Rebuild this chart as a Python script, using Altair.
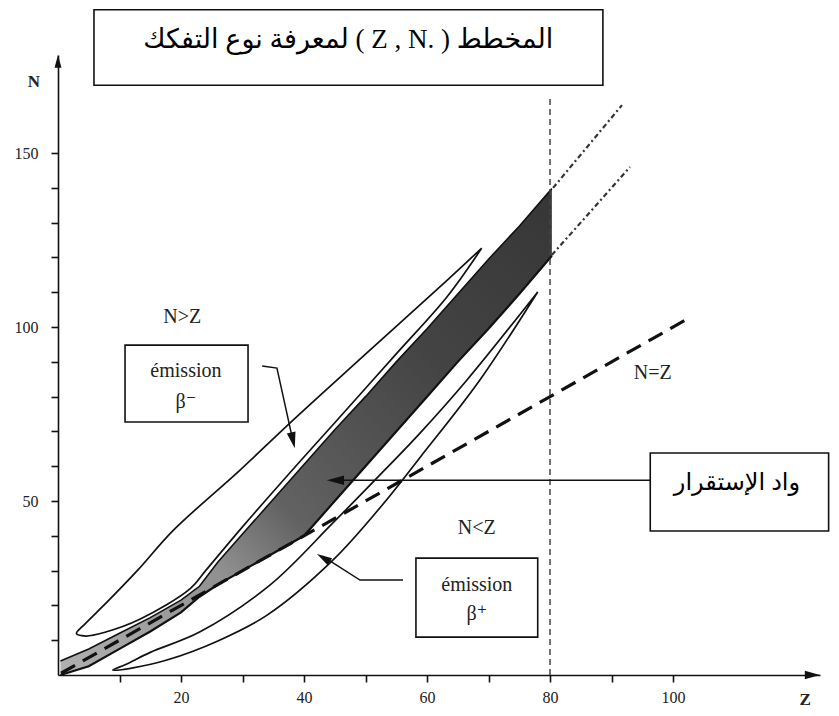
import altair as alt
import pandas as pd

# ---------------- axes ----------------
Z_MAX = 123.9
N_MAX = 178.2
z_ticks = [10, 20, 30, 40, 50, 60, 70, 80, 90, 100]
n_ticks = [10, 20, 30, 40, 50, 60, 70, 80, 90, 100, 110, 120, 130, 140, 150]

# ---------------- valley of stability (band) ----------------
band_z = [0.4, 5, 10, 15, 20, 23, 26, 30, 35, 40, 45, 50, 55, 60, 65, 70, 75, 80.3]
band_lo = [0, 2.5, 7.5, 12.5, 18, 22.5, 26, 30, 35, 40, 50, 60, 70, 80, 90, 99.5, 109.5, 120.5]
band_hi = [4.0, 7.5, 12, 16.5, 21.5, 25.5, 32.5, 40.5, 50.5, 60.5, 70.5, 80, 90, 99.5, 109.5, 119.5, 129, 139.8]

# ---------------- beta- loop (closed, ordered) ----------------
bm_z = [68.9, 63.3, 55, 45, 39.3, 30.1, 24, 21.5, 13.3, 7.5, 4.5, 3.0, 4.4, 8, 13, 18.7, 29.6, 37.7, 50, 63.3, 68.9]
bm_n = [122.7, 108.8, 92.3, 72.5, 61.3, 42.8, 30.0, 24.8, 16.0, 12.2, 11.2, 11.9, 14.7, 21.0, 30.2, 41.5, 58.9, 72.4, 92.2, 113.5, 122.7]

# ---------------- beta+ loop (closed, ordered) ----------------
bp_z = [78, 68.6, 58.9, 52.8, 44.7, 34, 26, 17.7, 12, 8.9, 11, 15, 23.1, 34.5, 44.7, 51.8, 58.9, 66.5, 78]
bp_n = [110.1, 84.8, 62.6, 49.0, 33.0, 17.2, 9.8, 4.3, 2.0, 1.4, 3.0, 6.5, 12.4, 25.9, 43.7, 56.5, 69.6, 84.8, 110.1]

# ---------------- reference lines ----------------
nz_z = [0.5, 102.3]          # N = Z
nz_n = [0.5, 102.3]
vline_z = 80
vline_n = [0, 166.7]
ext_z = [[80.5, 91.7], [80.3, 93.0]]
ext_n = [[140.0, 163.8], [120.7, 146.0]]

# ---------------- arrows ----------------
arrow_paths = {
    "main": ([96.3, 44.5], [56.0, 56.0]),
    "bm": ([33.2, 35.6, 38.3], [88.8, 88.2, 66.5]),
    "bp": ([56.1, 49.1, 43.0], [27.3, 27.3, 34.2]),
}
head_z = [43.7, 38.5, 42.1, Z_MAX, 0]
head_n = [56.0, 65.2, 34.8, 0, N_MAX]
head_angle = [270, 167, 301, 90, 0]
head_size = [300, 260, 230, 230, 160]

# ---------------- boxes ----------------
box_z = [5.85, 10.9, 58.2, 96.3]
box_z2 = [88.6, 30.9, 78.0, 125.3]
box_n = [191.2, 94.8, 33.6, 63.8]
box_n2 = [169.5, 72.7, 10.9, 41.4]

# ---------------- texts ----------------
title_text = "لمعرفة نوع التفكك ( Z , N. ) المخطط"
stab_text = "واد الإستقرار"
label_text = ["N>Z", "N<Z", "N=Z", "émission", "β⁻", "émission", "β⁺"]
label_z = [20.2, 68.1, 96.7, 20.8, 20.8, 68.1, 68.1]
label_n = [102.9, 42.2, 86.8, 87.4, 78.6, 25.9, 17.6]

# ================= build =================
xs = alt.Scale(domain=[0, Z_MAX], nice=False, zero=False)
ys = alt.Scale(domain=[0, N_MAX], nice=False, zero=False)
serif = "Liberation Serif, Times New Roman, DejaVu Serif, serif"
arabic = "Liberation Serif, Times New Roman, DejaVu Sans, serif"

x_axis = alt.Axis(values=z_ticks, labelExpr="datum.value % 20 == 0 ? datum.label : ''",
                  grid=False, tickSize=7, labelPadding=7, labelFont=serif, labelFontSize=16,
                  labelColor="#222", domainColor="#111", tickColor="#111", domainWidth=1.6,
                  tickWidth=1.6, labelFlush=False)
y_axis = alt.Axis(values=n_ticks, labelExpr="datum.value % 50 == 0 ? datum.label : ''",
                  grid=False, tickSize=7, labelPadding=13, labelFont=serif, labelFontSize=16,
                  labelColor="#222", domainColor="#111", tickColor="#111", domainWidth=1.6,
                  tickWidth=1.6, labelFlush=False)


def X(f):
    return alt.X(f, type="quantitative", scale=xs, axis=x_axis, title=None)


def Y(f):
    return alt.Y(f, type="quantitative", scale=ys, axis=y_axis, title=None)


band_df = pd.DataFrame({"z": band_z, "lo": band_lo, "hi": band_hi})
grad = alt.Gradient(gradient="linear",
                    stops=[alt.GradientStop(color="#b0b0b0", offset=0),
                           alt.GradientStop(color="#909090", offset=0.27),
                           alt.GradientStop(color="#626262", offset=0.4),
                           alt.GradientStop(color="#444444", offset=0.7),
                           alt.GradientStop(color="#363636", offset=1)],
                    x1=0, x2=1, y1=1, y2=0)
band = alt.Chart(band_df).mark_area(color=grad).encode(x=X("z"), y=Y("lo"), y2="hi")
band_up = alt.Chart(band_df).mark_line(color="#111", strokeWidth=1.6).encode(x=X("z"), y=Y("hi"))
band_low = alt.Chart(band_df).mark_line(color="#111", strokeWidth=2.2).encode(x=X("z"), y=Y("lo"))

loops = pd.concat([
    pd.DataFrame({"z": bm_z, "n": bm_n, "o": range(len(bm_z)), "g": "bm"}),
    pd.DataFrame({"z": bp_z, "n": bp_n, "o": range(len(bp_z)), "g": "bp"}),
])
loop_layer = alt.Chart(loops).mark_line(color="#111", strokeWidth=1.7, interpolate="catmull-rom").encode(
    x=X("z"), y=Y("n"), order="o:Q", detail="g:N")

nz_df = pd.DataFrame({"z": nz_z, "n": nz_n})
nz_layer = alt.Chart(nz_df).mark_line(color="#111", strokeWidth=3.2, strokeDash=[16, 9]).encode(
    x=X("z"), y=Y("n"))

vl_df = pd.DataFrame({"z": [vline_z], "n": [vline_n[0]], "n2": [vline_n[1]]})
vl_layer = alt.Chart(vl_df).mark_rule(color="#444", strokeWidth=1.5, strokeDash=[6, 4]).encode(
    x=X("z"), y=Y("n"), y2="n2")

ext_rows = []
for i, (zz, nn) in enumerate(zip(ext_z, ext_n)):
    for j in range(2):
        ext_rows.append({"z": zz[j], "n": nn[j], "g": i, "o": j})
ext_layer = alt.Chart(pd.DataFrame(ext_rows)).mark_line(color="#333", strokeWidth=2.2,
                                                         strokeDash=[5, 3, 2, 3]).encode(
    x=X("z"), y=Y("n"), detail="g:N", order="o:Q")

arr_rows = []
for k, (zz, nn) in arrow_paths.items():
    for j in range(len(zz)):
        arr_rows.append({"z": zz[j], "n": nn[j], "g": k, "o": j})
arr_layer = alt.Chart(pd.DataFrame(arr_rows)).mark_line(color="#111", strokeWidth=1.5).encode(
    x=X("z"), y=Y("n"), detail="g:N", order="o:Q")

head_df = pd.DataFrame({"z": head_z, "n": head_n, "a": head_angle, "s": head_size})
head_layer = alt.Chart(head_df).mark_point(shape="M0,0L-0.55,2L0.55,2Z", filled=True, color="#111",
                                           opacity=1).encode(
    x=X("z"), y=Y("n"), angle=alt.Angle("a:Q", scale=None), size=alt.Size("s:Q", scale=None))

box_df = pd.DataFrame({"z": box_z, "z2": box_z2, "n": box_n, "n2": box_n2})
box_layer = alt.Chart(box_df).mark_rect(fill="white", stroke="#111", strokeWidth=1.6).encode(
    x=X("z"), x2="z2", y=Y("n"), y2="n2")

lab_df = pd.DataFrame({"z": label_z, "n": label_n, "t": label_text})
lab_layer = alt.Chart(lab_df).mark_text(font=serif, fontSize=20, color="#222", align="center",
                                        baseline="middle").encode(x=X("z"), y=Y("n"), text="t:N")

title_df = pd.DataFrame({"z": [47.2], "n": [182.6], "t": [title_text]})
title_layer = alt.Chart(title_df).mark_text(font=arabic, fontSize=27,
                                            color="#000", align="center", baseline="middle").encode(
    x=X("z"), y=Y("n"), text="t:N")

stab_df = pd.DataFrame({"z": [110.4], "n": [55.3], "t": [stab_text]})
stab_layer = alt.Chart(stab_df).mark_text(font=arabic, fontSize=24,
                                          color="#000", align="center", baseline="middle").encode(
    x=X("z"), y=Y("n"), text="t:N")

axis_lab_df = pd.DataFrame({"z": [-3.9, 121.5], "n": [170.4, -7.2], "t": ["N", "Z"]})
axis_lab_layer = alt.Chart(axis_lab_df).mark_text(font=serif, fontSize=17, color="#222",
                                                  fontWeight="bold", align="center",
                                                  baseline="middle").encode(
    x=X("z"), y=Y("n"), text="t:N")

chart = alt.layer(
    band, band_up, band_low, loop_layer, nz_layer, vl_layer, ext_layer,
    arr_layer, head_layer, box_layer, lab_layer, title_layer, stab_layer, axis_lab_layer
).properties(
    width=762, height=620,
    padding={"left": 50, "top": 47, "right": 11, "bottom": 33},
    autosize=alt.AutoSizeParams(type="none"),
    background="white",
).configure_view(stroke=None)

chart.save("out.html", embed_options={"renderer": "svg", "actions": False})
